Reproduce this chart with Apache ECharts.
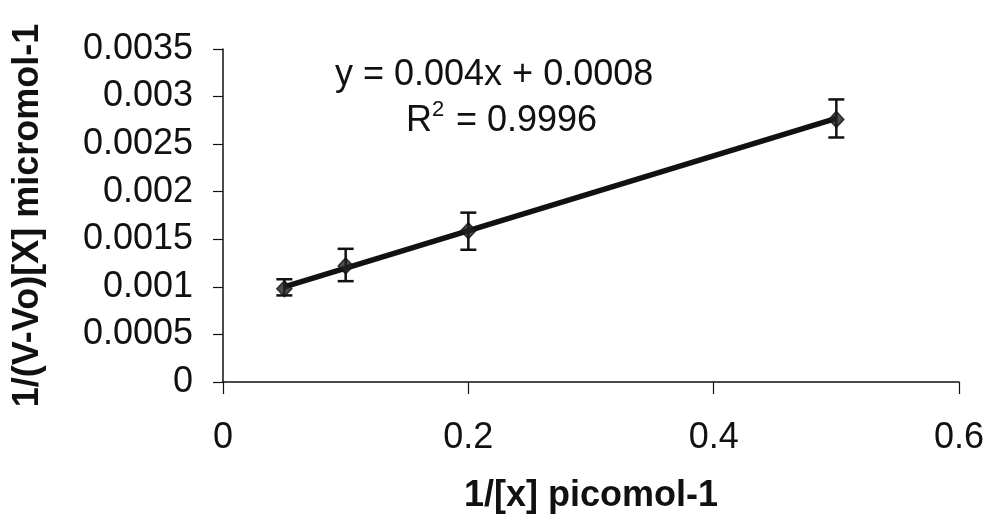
<!DOCTYPE html>
<html>
<head>
<meta charset="utf-8">
<script src="https://cdn.jsdelivr.net/npm/echarts@6/dist/echarts.min.js"></script>
<style>
html,body{margin:0;padding:0;background:#fff;}
#chart{width:991px;height:525px;}
</style>
</head>
<body>
<div id="chart"></div>
<script>
// ---- data ----
var xValues = [0.05, 0.1, 0.2, 0.5];
var yValues = [0.00098, 0.00122, 0.00159, 0.00276];
var errLow  = [0.00091, 0.00106, 0.00139, 0.00257];
var errHigh = [0.00108, 0.00140, 0.00178, 0.00297];
var trendX = [0.05, 0.5];
var trendY = [0.00100, 0.00277];
var xTickLabels = ['0', '0.2', '0.4', '0.6'];
var yTickLabels = ['0', '0.0005', '0.001', '0.0015', '0.002', '0.0025', '0.003', '0.0035'];
var xTitle = '1/[x] picomol-1';
var yTitle = '1/(V-Vo)[X] micromol-1';
var eqLine = 'y = 0.004x + 0.0008';
var r2Value = '0.9996';

var FONT = '"Liberation Sans", Arial, sans-serif';
var INK = '#111';

var points = xValues.map(function (x, i) { return [x, yValues[i]]; });
var errData = xValues.map(function (x, i) { return [x, errLow[i], errHigh[i]]; });
var trend = trendX.map(function (x, i) { return [x, trendY[i]]; });

var chart = echarts.init(document.getElementById('chart'), null, {renderer: 'canvas'});
chart.setOption({
  backgroundColor: '#fff',
  animation: false,
  grid: {left: 223, right: 32, top: 49, bottom: 143, containLabel: false},
  xAxis: {
    type: 'value', min: 0, max: 0.6, interval: 0.2,
    name: xTitle, nameLocation: 'middle', nameGap: 96,
    nameTextStyle: {fontFamily: FONT, fontSize: 36, fontWeight: 'bold', color: INK},
    axisLine: {show: true, onZero: false, lineStyle: {color: INK, width: 1.5}},
    axisTick: {show: true, length: 12, lineStyle: {color: INK, width: 1.2}},
    axisLabel: {margin: 38, fontFamily: FONT, fontSize: 36, color: INK,
      formatter: function (v, i) { return xTickLabels[i]; }},
    splitLine: {show: false}
  },
  yAxis: {
    type: 'value', min: 0, max: 0.0035, interval: 0.0005,
    name: yTitle, nameLocation: 'middle', nameGap: 177, nameRotate: 90,
    nameTextStyle: {fontFamily: FONT, fontSize: 36, fontWeight: 'bold', color: INK},
    axisLine: {show: true, onZero: false, lineStyle: {color: INK, width: 1.5}},
    axisTick: {show: true, length: 10, lineStyle: {color: INK, width: 1.2}},
    axisLabel: {margin: 30, fontFamily: FONT, fontSize: 36, color: INK,
      formatter: function (v, i) { return yTickLabels[i]; }},
    splitLine: {show: false}
  },
  graphic: [
    {type: 'text', z: 100, left: 335, top: 57,
      style: {text: eqLine, font: '36px ' + FONT, fill: INK}},
    {type: 'text', z: 100, left: 406, top: 103,
      style: {text: 'R', font: '36px ' + FONT, fill: INK}},
    {type: 'text', z: 100, left: 432, top: 99,
      style: {text: '2', font: '22px ' + FONT, fill: INK}},
    {type: 'text', z: 100, left: 456, top: 103,
      style: {text: '= ' + r2Value, font: '36px ' + FONT, fill: INK}}
  ],
  series: [
    {
      type: 'line', data: trend, symbol: 'none', z: 2,
      lineStyle: {color: INK, width: 5.5}
    },
    {
      type: 'custom', z: 3,
      data: errData,
      renderItem: function (params, api) {
        var x = api.value(0);
        var lo = api.coord([x, api.value(1)]);
        var hi = api.coord([x, api.value(2)]);
        var hw = 8;
        var st = {stroke: INK, lineWidth: 2.5};
        return {type: 'group', children: [
          {type: 'line', shape: {x1: lo[0], y1: lo[1], x2: hi[0], y2: hi[1]}, style: st},
          {type: 'line', shape: {x1: lo[0] - hw, y1: lo[1], x2: lo[0] + hw, y2: lo[1]}, style: st},
          {type: 'line', shape: {x1: hi[0] - hw, y1: hi[1], x2: hi[0] + hw, y2: hi[1]}, style: st}
        ]};
      }
    },
    {
      type: 'scatter', data: points, symbol: 'diamond', symbolSize: [15, 16], z: 4,
      itemStyle: {color: '#222', borderColor: INK, borderWidth: 1.5}
    }
  ]
});
</script>
</body>
</html>
